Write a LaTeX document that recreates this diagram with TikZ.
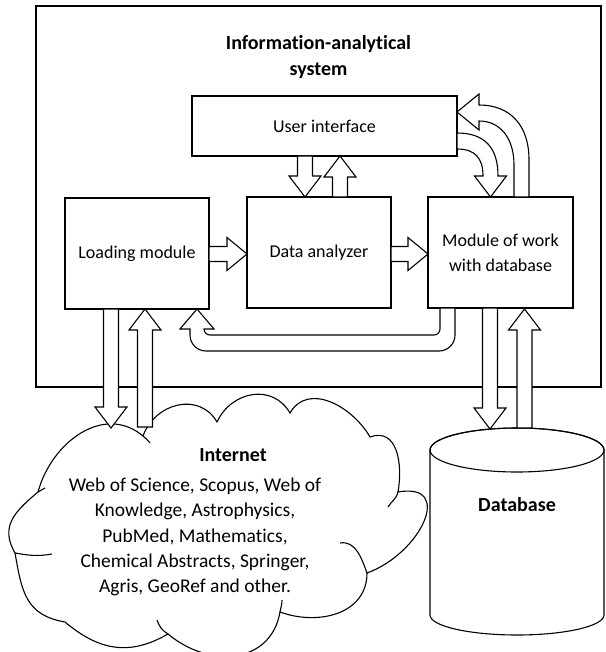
\documentclass[tikz,border=0pt]{standalone}
\usepackage{fontspec}
\setmainfont{Carlito}[Ligatures=NoCommon]
\begin{document}
\begin{tikzpicture}[x=1pt,y=1pt,
  line width=1.1pt,
  box/.style={draw,fill=white,inner sep=0pt,align=center,font=\fontsize{18}{25}\selectfont},
  blockarrow/.style={draw,fill=white,line join=miter}]
\useasboundingbox (0,0) rectangle (605,-652);

% vertical block arrows: x, y of tail, y of tip (y measured downwards)
\newcommand{\blkdown}[3]{%
  \filldraw[blockarrow] (#1-7.5,-#2) -- (#1-7.5,-#3+21) -- (#1-16,-#3+21) -- (#1,-#3)
    -- (#1+16,-#3+21) -- (#1+7.5,-#3+21) -- (#1+7.5,-#2) -- cycle;}
\newcommand{\blkup}[3]{%
  \filldraw[blockarrow] (#1-7.5,-#2) -- (#1-7.5,-#3-21) -- (#1-16,-#3-21) -- (#1,-#3)
    -- (#1+16,-#3-21) -- (#1+7.5,-#3-21) -- (#1+7.5,-#2) -- cycle;}
% horizontal block arrow: y, x of tail, x of tip
\newcommand{\blkright}[3]{%
  \filldraw[blockarrow] (#2,-#1+7.5) -- (#3-20,-#1+7.5) -- (#3-20,-#1+16.5) -- (#3,-#1)
    -- (#3-20,-#1-16.5) -- (#3-20,-#1-7.5) -- (#2,-#1-7.5) -- cycle;}

% system frame and title
\draw (36,-6) rectangle (601,-387);
\node[font=\bfseries\fontsize{20}{26}\selectfont,align=center] (title) at (318.5,-57)
  {Information-analytical\\system};

% modules
\node[box,minimum width=265pt,minimum height=60pt] (ui) at (324.5,-126) {User interface};
\node[box,minimum width=144pt,minimum height=111pt] (load) at (137,-253.5) {Loading module};
\node[box,minimum width=144pt,minimum height=111pt] (ana) at (319,-252.5) {Data analyzer};
\node[box,minimum width=145pt,minimum height=111pt] (mod) at (500.5,-252.5) {Module of work\\with database};

% cloud of external sources
\coordinate (c1) at (38,-492);
\coordinate (c2) at (143,-436);
\coordinate (c3) at (217,-422);
\coordinate (c4) at (290,-413);
\coordinate (c5) at (370,-437);
\coordinate (c6) at (398,-492);
\coordinate (c7) at (367,-573);
\coordinate (c8) at (280,-612);
\coordinate (c9) at (168,-634);
\coordinate (c10) at (65,-622);
\coordinate (c11) at (15,-553);
\filldraw[fill=white] (c1) to[out=75,in=140,looseness=1.1] (c2)
  to[out=70,in=120,looseness=1.2] (c3)
  to[out=65,in=120,looseness=1.2] (c4)
  to[out=60,in=120,looseness=1.1] (c5)
  to[out=20,in=80,looseness=1.2] (c6)
  to[out=10,in=20,looseness=1.7] (c7)
  to[out=-90,in=-20,looseness=1.1] (c8)
  to[out=-100,in=-40,looseness=1.2] (c9)
  to[out=-150,in=-40,looseness=1.1] (c10)
  to[out=170,in=-80,looseness=1.2] (c11)
  to[out=120,in=220,looseness=1.2] (c1) -- cycle;
% inner strokes of the cloud
\draw (c1) -- (45,-488);
\draw (c2) to[out=-40,in=130] (150,-443);
\draw (c6) to[out=-100,in=60] (388,-507);
\draw (340,-543) to[out=10,in=110] (c7);
\draw (c8) to[out=80,in=-90] (282,-600);
\draw (157,-620) to[out=-70,in=150] (c9);
\draw (c11) to[out=-10,in=190] (52,-554);

\node[font=\bfseries\fontsize{20}{25}\selectfont,inner sep=0pt] (inet) at (233,-455) {Internet};
\node[font=\fontsize{19.5}{25.3}\selectfont,align=center,inner sep=0pt] (srcs) at (195,-537)
  {Web of Science, Scopus, Web of\\Knowledge, Astrophysics,\\PubMed, Mathematics,\\Chemical Abstracts, Springer,\\Agris, GeoRef and other.};

% database cylinder
\filldraw[fill=white] (430,-450) -- (430,-615) arc[start angle=180,end angle=360,x radius=87,y radius=20]
  -- (604,-450) arc[start angle=0,end angle=180,x radius=87,y radius=22] -- cycle;
\draw (517,-450) ellipse[x radius=87,y radius=22];
\node[font=\bfseries\fontsize{20}{25}\selectfont,inner sep=0pt] (dbl) at (517,-505) {Database};

% data flows between modules
\blkdown{305}{156}{197}
\blkup{340}{197}{156}
\blkright{254}{209}{247}
\blkright{254}{391}{428}
\blkdown{111}{309}{428}
\blkup{145}{427}{309}
\blkdown{490}{308}{429}
\blkup{524.5}{428}{309}

% user interface -> database module (curved)
\filldraw[blockarrow] (457,-133) .. controls (485,-133) and (498,-148) .. (498,-176)
  -- (506.5,-176) -- (490.5,-197) -- (474.5,-176) -- (483,-176)
  .. controls (483,-158) and (475,-149) .. (457,-149) -- cycle;
% database module -> user interface (curved)
\filldraw[blockarrow] (514,-197) -- (514,-165) .. controls (514,-138) and (500,-121) .. (479,-121)
  -- (479,-130) -- (457,-112) -- (479,-94) -- (479,-105)
  .. controls (510,-105) and (529,-125) .. (529,-160) -- (529,-197) -- cycle;
% database module -> loading module (loop below)
\filldraw[blockarrow] (197,-309) -- (214,-329) -- (204,-329)
  arc[start angle=180,end angle=270,radius=6] -- (434,-335)
  arc[start angle=270,end angle=360,radius=6] -- (440,-308) -- (455,-308) -- (455,-335)
  arc[start angle=0,end angle=-90,radius=16] -- (206,-351)
  arc[start angle=270,end angle=180,radius=16] -- (190,-329) -- (180,-329) -- cycle;
\end{tikzpicture}
\end{document}
